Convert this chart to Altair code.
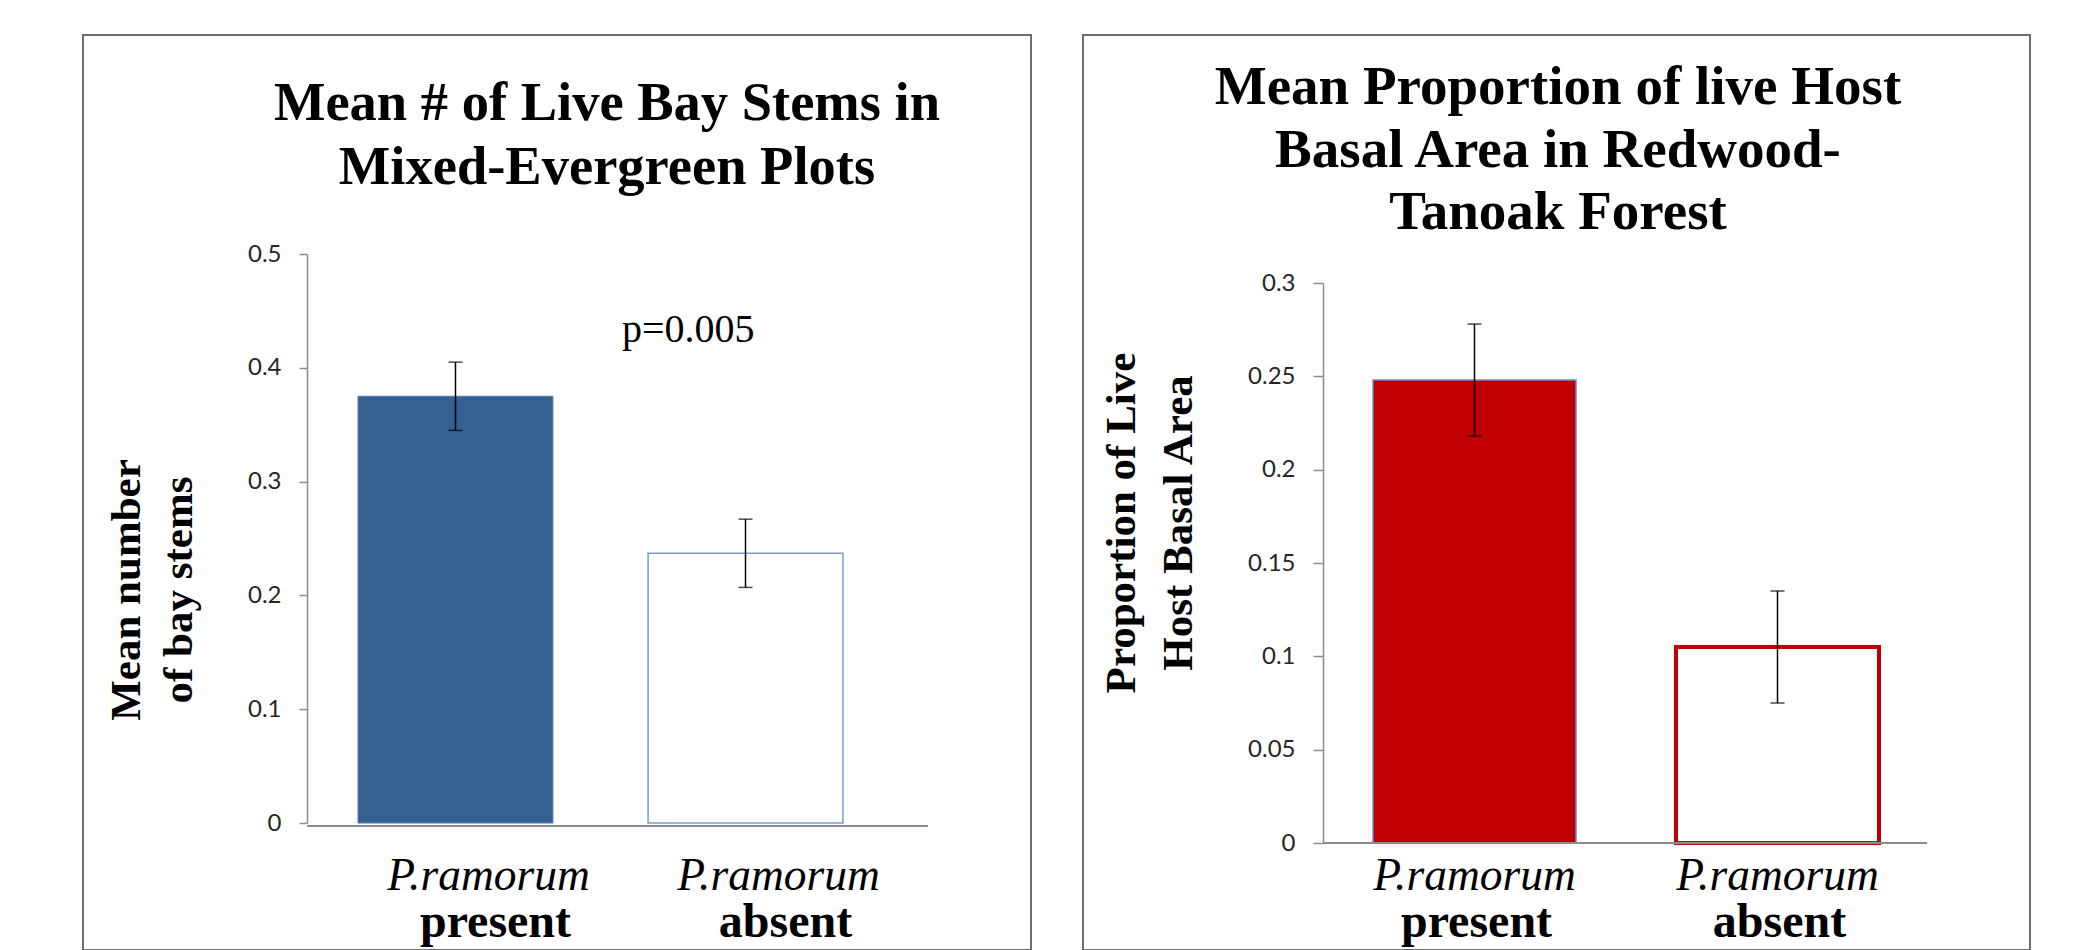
import altair as alt
import pandas as pd

# ---------------- data ----------------
categories = ["present", "absent"]
left_means = [0.375, 0.237]
left_errs = [0.030, 0.030]
right_means = [0.248, 0.105]
right_errs = [0.030, 0.030]

left_ticks = [0, 0.1, 0.2, 0.3, 0.4, 0.5]
right_ticks = [0, 0.05, 0.1, 0.15, 0.2, 0.25, 0.3]

left_title = ["Mean # of Live Bay Stems in", "Mixed-Evergreen Plots"]
right_title = ["Mean Proportion of live Host", "Basal Area in Redwood-", "Tanoak Forest"]
left_ytitle = ["Mean number", "of bay stems"]
right_ytitle = ["Proportion of Live", "Host Basal Area"]
species_label = "P.ramorum"
p_label = "p=0.005"

SERIF = "Liberation Serif"
SANS = "Lato"
FRAME = "#6e6e6e"
AXIS = "#8c8c8c"


def one_row():
    return alt.Data(values=[{"k": 1}])


def panel(means, errs, ticks, ymax, W, H, ytop, xrange, pin, pout, fills, strokes, widths,
          frame, title, title_xy, title_lh, title_size, ytitle, ytitle_xy, ytitle_lh,
          lab_y, lab_dx, tick_size, axis_dy, extra=None):
    df = pd.DataFrame({"cat": categories, "mean": means, "err": errs})
    base = alt.Chart(df).transform_calculate(
        lo="datum.mean - datum.err", hi="datum.mean + datum.err"
    )
    xenc = alt.X(
        "cat:N",
        sort=categories,
        scale=alt.Scale(domain=categories, range=[0, xrange],
                        paddingInner=pin, paddingOuter=pout),
        axis=None,
    )
    yaxis = alt.Axis(
        values=ticks,
        labelExpr="format(datum.value, '~g')",
        grid=False,
        domainColor=AXIS,
        domainWidth=1.5,
        tickColor=AXIS,
        tickWidth=1.5,
        tickSize=tick_size,
        labelPadding=18,
        labelFont=SANS,
        labelFontSize=24,
        labelColor="#262626",
        title=None,
    )
    yscale = alt.Scale(domain=[0, ymax], nice=False, range=[H, ytop])

    bars = base.mark_bar().encode(
        x=xenc,
        y=alt.Y("mean:Q", scale=yscale, axis=yaxis),
        fill=alt.Fill("cat:N", scale=alt.Scale(domain=categories, range=fills), legend=None),
        stroke=alt.Stroke("cat:N", scale=alt.Scale(domain=categories, range=strokes), legend=None),
        strokeWidth=alt.StrokeWidth("cat:N", scale=alt.Scale(domain=categories, range=widths), legend=None),
    )
    err = base.mark_rule(color="black", strokeWidth=1.5).encode(
        x=xenc, y=alt.Y("lo:Q", scale=yscale, axis=yaxis), y2="hi:Q"
    )
    cap_hi = base.mark_tick(color="black", thickness=1.5, size=14).encode(
        x=xenc, y=alt.Y("hi:Q", scale=yscale, axis=yaxis)
    )
    cap_lo = base.mark_tick(color="black", thickness=1.5, size=14).encode(
        x=xenc, y=alt.Y("lo:Q", scale=yscale, axis=yaxis)
    )
    xline = alt.Chart(one_row()).mark_rule(color=AXIS, strokeWidth=2).encode(
        x=alt.value(0), x2=alt.value(W), y=alt.value(H + axis_dy)
    )
    lab_it = base.mark_text(
        font=SERIF, fontSize=45.5, fontStyle="italic", color="black",
        align="center", baseline="alphabetic", dx=lab_dx[0],
    ).encode(x=xenc, y=alt.value(H + lab_y[0]), text=alt.value(species_label))
    lab_bd = base.mark_text(
        font=SERIF, fontSize=48, fontWeight="bold", color="black",
        align="center", baseline="alphabetic", dx=lab_dx[1],
    ).encode(x=xenc, y=alt.value(H + lab_y[1]), text="cat:N")

    fx1, fx2, fy1, fy2 = frame
    box = alt.Chart(one_row()).mark_rect(
        filled=False, stroke=FRAME, strokeWidth=2
    ).encode(x=alt.value(fx1), x2=alt.value(fx2), y=alt.value(fy1), y2=alt.value(fy2))

    ttl = alt.Chart(one_row()).mark_text(
        text=title, font=SERIF, fontSize=title_size, fontWeight="bold", color="black",
        align="center", baseline="alphabetic", lineHeight=title_lh,
    ).encode(x=alt.value(title_xy[0]), y=alt.value(title_xy[1]))

    yttl = alt.Chart(one_row()).mark_text(
        text=ytitle, font=SERIF, fontSize=43, fontWeight="bold", color="black",
        align="center", baseline="alphabetic", angle=270, lineHeight=ytitle_lh,
    ).encode(x=alt.value(ytitle_xy[0]), y=alt.value(ytitle_xy[1]))

    layers = [box, bars, err, cap_hi, cap_lo, xline, lab_it, lab_bd, ttl, yttl]
    if extra is not None:
        layers.append(extra)
    return alt.layer(*layers).properties(width=W, height=H)


p_text = alt.Chart(one_row()).mark_text(
    text=p_label, font=SERIF, fontSize=40, color="black",
    align="left", baseline="alphabetic",
).encode(x=alt.value(315), y=alt.value(88))

left = panel(
    left_means, left_errs, left_ticks, 0.5,
    W=621, H=569, ytop=0, xrange=587, pin=0.328, pout=0.176,
    fills=["#376092", "#ffffff"], strokes=["#4f7bb4", "#7a9cd0"], widths=[1, 1.5],
    frame=(-224, 724, -219, 696),
    title=left_title, title_xy=(300, -134), title_lh=64, title_size=54.5,
    ytitle=left_ytitle, ytitle_xy=(-167, 336), ytitle_lh=52,
    lab_y=(67, 114), lab_dx=(33, 40), tick_size=8, axis_dy=3,
    extra=p_text,
)

right = panel(
    right_means, right_errs, right_ticks, 0.3,
    W=604, H=589, ytop=29, xrange=606, pin=0.33, pout=0.165,
    fills=["#c00000", "#ffffff"], strokes=["#6a8fc7", "#c00000"], widths=[1.5, 4],
    frame=(-240, 707, -219, 696),
    title=right_title, title_xy=(235, -150), title_lh=62.5, title_size=55,
    ytitle=right_ytitle, ytitle_xy=(-188, 269), ytitle_lh=57,
    lab_y=(47, 94), lab_dx=(0, 2), tick_size=10, axis_dy=0,
)

chart = (
    alt.hconcat(left, right, spacing=50)
    .resolve_scale(fill="independent", stroke="independent", strokeWidth="independent")
    .properties(padding={"left": 74, "top": 26, "right": 0, "bottom": 0})
    .configure_view(strokeWidth=0)
)

chart.save("out.html", embed_options={"renderer": "svg", "actions": False})
